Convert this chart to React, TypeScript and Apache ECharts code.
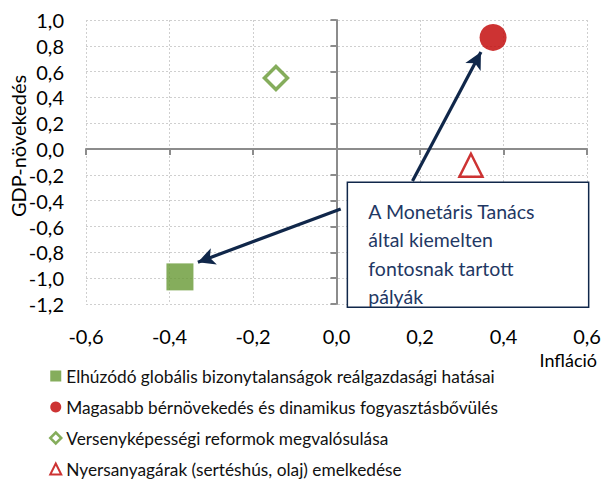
import React, { useEffect, useRef } from 'react';
import * as echarts from 'echarts';

const seriesNames = [
  'Elhúzódó globális bizonytalanságok reálgazdasági hatásai',
  'Magasabb bérnövekedés és dinamikus fogyasztásbővülés',
  'Versenyképességi reformok megvalósulása',
  'Nyersanyagárak (sertéshús, olaj) emelkedése',
];
const inflation = [-0.375, 0.375, -0.145, 0.322];
const gdp = [-0.99, 0.865, 0.55, -0.125];

const xTicks = [-0.6, -0.4, -0.2, 0.0, 0.2, 0.4, 0.6];
const yTicks = [-1.2, -1.0, -0.8, -0.6, -0.4, -0.2, 0.0, 0.2, 0.4, 0.6, 0.8, 1.0];

const xAxisName = 'Infláció';
const yAxisName = 'GDP-növekedés';

const boxLines = ['A Monetáris Tanács', 'által kiemelten', 'fontosnak tartott', 'pályák'];
const boxCorners = [[0.026, -0.256], [0.604, -1.225]];
const arrowFrom = [[0.01, -0.465], [0.182, -0.248]];
const arrowTo = [[-0.332, -0.876], [0.346, 0.752]];

const FONT = 'Lato, "Noto Sans", sans-serif';
const GREEN = '#669933';
const RED = '#C00000';
const NAVY = '#10274A';
const AXIS = '#8c8c8c';
const fmt = (v: number) => v.toFixed(1).replace('.', ',');

export default function App() {
  const ref = useRef<HTMLDivElement>(null);
  useEffect(() => {
    const chart = echarts.init(ref.current!, null, { renderer: 'svg' });
    const xMin = xTicks[0], xMax = xTicks[xTicks.length - 1];
    const yMin = yTicks[0], yMax = yTicks[yTicks.length - 1];
    const step = 0.2;
    const symbols = ['rect', 'circle', 'diamond', 'triangle'];
    const sizes = [27, 27, 23, 23];
    const styles = [
      { color: GREEN },
      { color: RED },
      { color: '#ffffff', borderColor: GREEN, borderWidth: 3.5 },
      { color: '#ffffff', borderColor: RED, borderWidth: 2.5 },
    ];
    const series: any[] = seriesNames.map((name, i) => ({
      type: 'scatter',
      name,
      xAxisIndex: 0,
      yAxisIndex: 0,
      symbol: symbols[i],
      symbolSize: sizes[i],
      itemStyle: styles[i],
      data: [[inflation[i], gdp[i]]],
      z: 5,
    }));
    series[0].markLine = {
      silent: true,
      symbol: ['none', 'arrow'],
      symbolSize: [13, 17],
      lineStyle: { color: NAVY, width: 3.2, type: 'solid' },
      label: { show: false },
      data: arrowFrom.map((f, i) => [{ coord: f }, { coord: arrowTo[i] }]),
    };
    const option: any = {
      animation: false,
      textStyle: { fontFamily: FONT },
      grid: { left: 86, right: 17, top: 20, bottom: 178, containLabel: false },
      legend: {
        orient: 'vertical',
        left: 49,
        top: 366,
        padding: 0,
        itemWidth: 11,
        itemHeight: 11,
        itemGap: 11,
        textStyle: { fontSize: 17.3, color: '#111', fontFamily: FONT, lineHeight: 20 },
        data: seriesNames.map((name, i) => ({
          name,
          itemStyle: i === 2 ? { borderWidth: 2.5 } : i === 3 ? { borderWidth: 2 } : undefined,
        })),
      },
      xAxis: [
        {
          type: 'value', min: xMin, max: xMax, interval: step, position: 'bottom',
          axisLine: { show: false, onZero: false },
          axisTick: { show: false },
          splitLine: { show: true, lineStyle: { color: '#cfcfcf', type: [2, 2], width: 1 } },
          axisLabel: { formatter: fmt, fontSize: 20, lineHeight: 18, color: '#000', margin: 23, fontFamily: FONT },
        },
        {
          type: 'value', min: xMin, max: xMax, interval: step, position: 'top',
          axisLine: { show: true, onZero: true, onZeroAxisIndex: 0, lineStyle: { color: AXIS, width: 2 } },
          axisTick: { show: true, inside: true, length: 6, lineStyle: { color: AXIS, width: 2 } },
          axisLabel: { show: false },
          splitLine: { show: false },
        },
      ],
      yAxis: [
        {
          type: 'value', min: yMin, max: yMax, interval: step, position: 'left',
          axisLine: { show: false, onZero: false },
          axisTick: { show: false },
          splitLine: { show: true, lineStyle: { color: '#cfcfcf', type: [2, 2], width: 1 } },
          axisLabel: { formatter: fmt, fontSize: 20, color: '#000', margin: 22, fontFamily: FONT },
        },
        {
          type: 'value', min: yMin, max: yMax, interval: step, position: 'right',
          axisLine: { show: true, onZero: true, onZeroAxisIndex: 0, lineStyle: { color: AXIS, width: 2 } },
          axisTick: { show: true, inside: true, length: 6, lineStyle: { color: AXIS, width: 2 } },
          axisLabel: { show: false },
          splitLine: { show: false },
        },
      ],
      series,
    };
    chart.setOption(option);
    const p0 = chart.convertToPixel({ seriesIndex: 0 }, boxCorners[0]) as number[];
    const p1 = chart.convertToPixel({ seriesIndex: 0 }, boxCorners[1]) as number[];
    chart.setOption({
      graphic: [
        {
          type: 'rect', z: 20,
          shape: { x: p0[0], y: p0[1], width: p1[0] - p0[0], height: p1[1] - p0[1] },
          style: { fill: '#ffffff', stroke: NAVY, lineWidth: 1.5 },
        },
        {
          type: 'text', z: 21, x: p0[0] + 21, y: p0[1] + 15,
          style: {
            text: boxLines.join('\n'), fontSize: 19.5, lineHeight: 28.5, fill: '#1F3864',
            fontFamily: FONT, align: 'left', verticalAlign: 'top',
          },
        },
        {
          type: 'text', z: 21, x: 18, y: 146, rotation: Math.PI / 2,
          style: { text: yAxisName, fontSize: 20, fill: '#000', fontFamily: FONT, align: 'center', verticalAlign: 'middle' },
        },
        {
          type: 'text', z: 21, x: 597, y: 360,
          style: { text: xAxisName, fontSize: 18, lineHeight: 17, fill: '#000', fontFamily: FONT, align: 'right', verticalAlign: 'middle' },
        },
      ],
    });
    return () => chart.dispose();
  }, []);
  return <div ref={ref} style={{ position: 'fixed', left: 0, top: 0, width: 604, height: 482, background: '#fff' }} />;
}
